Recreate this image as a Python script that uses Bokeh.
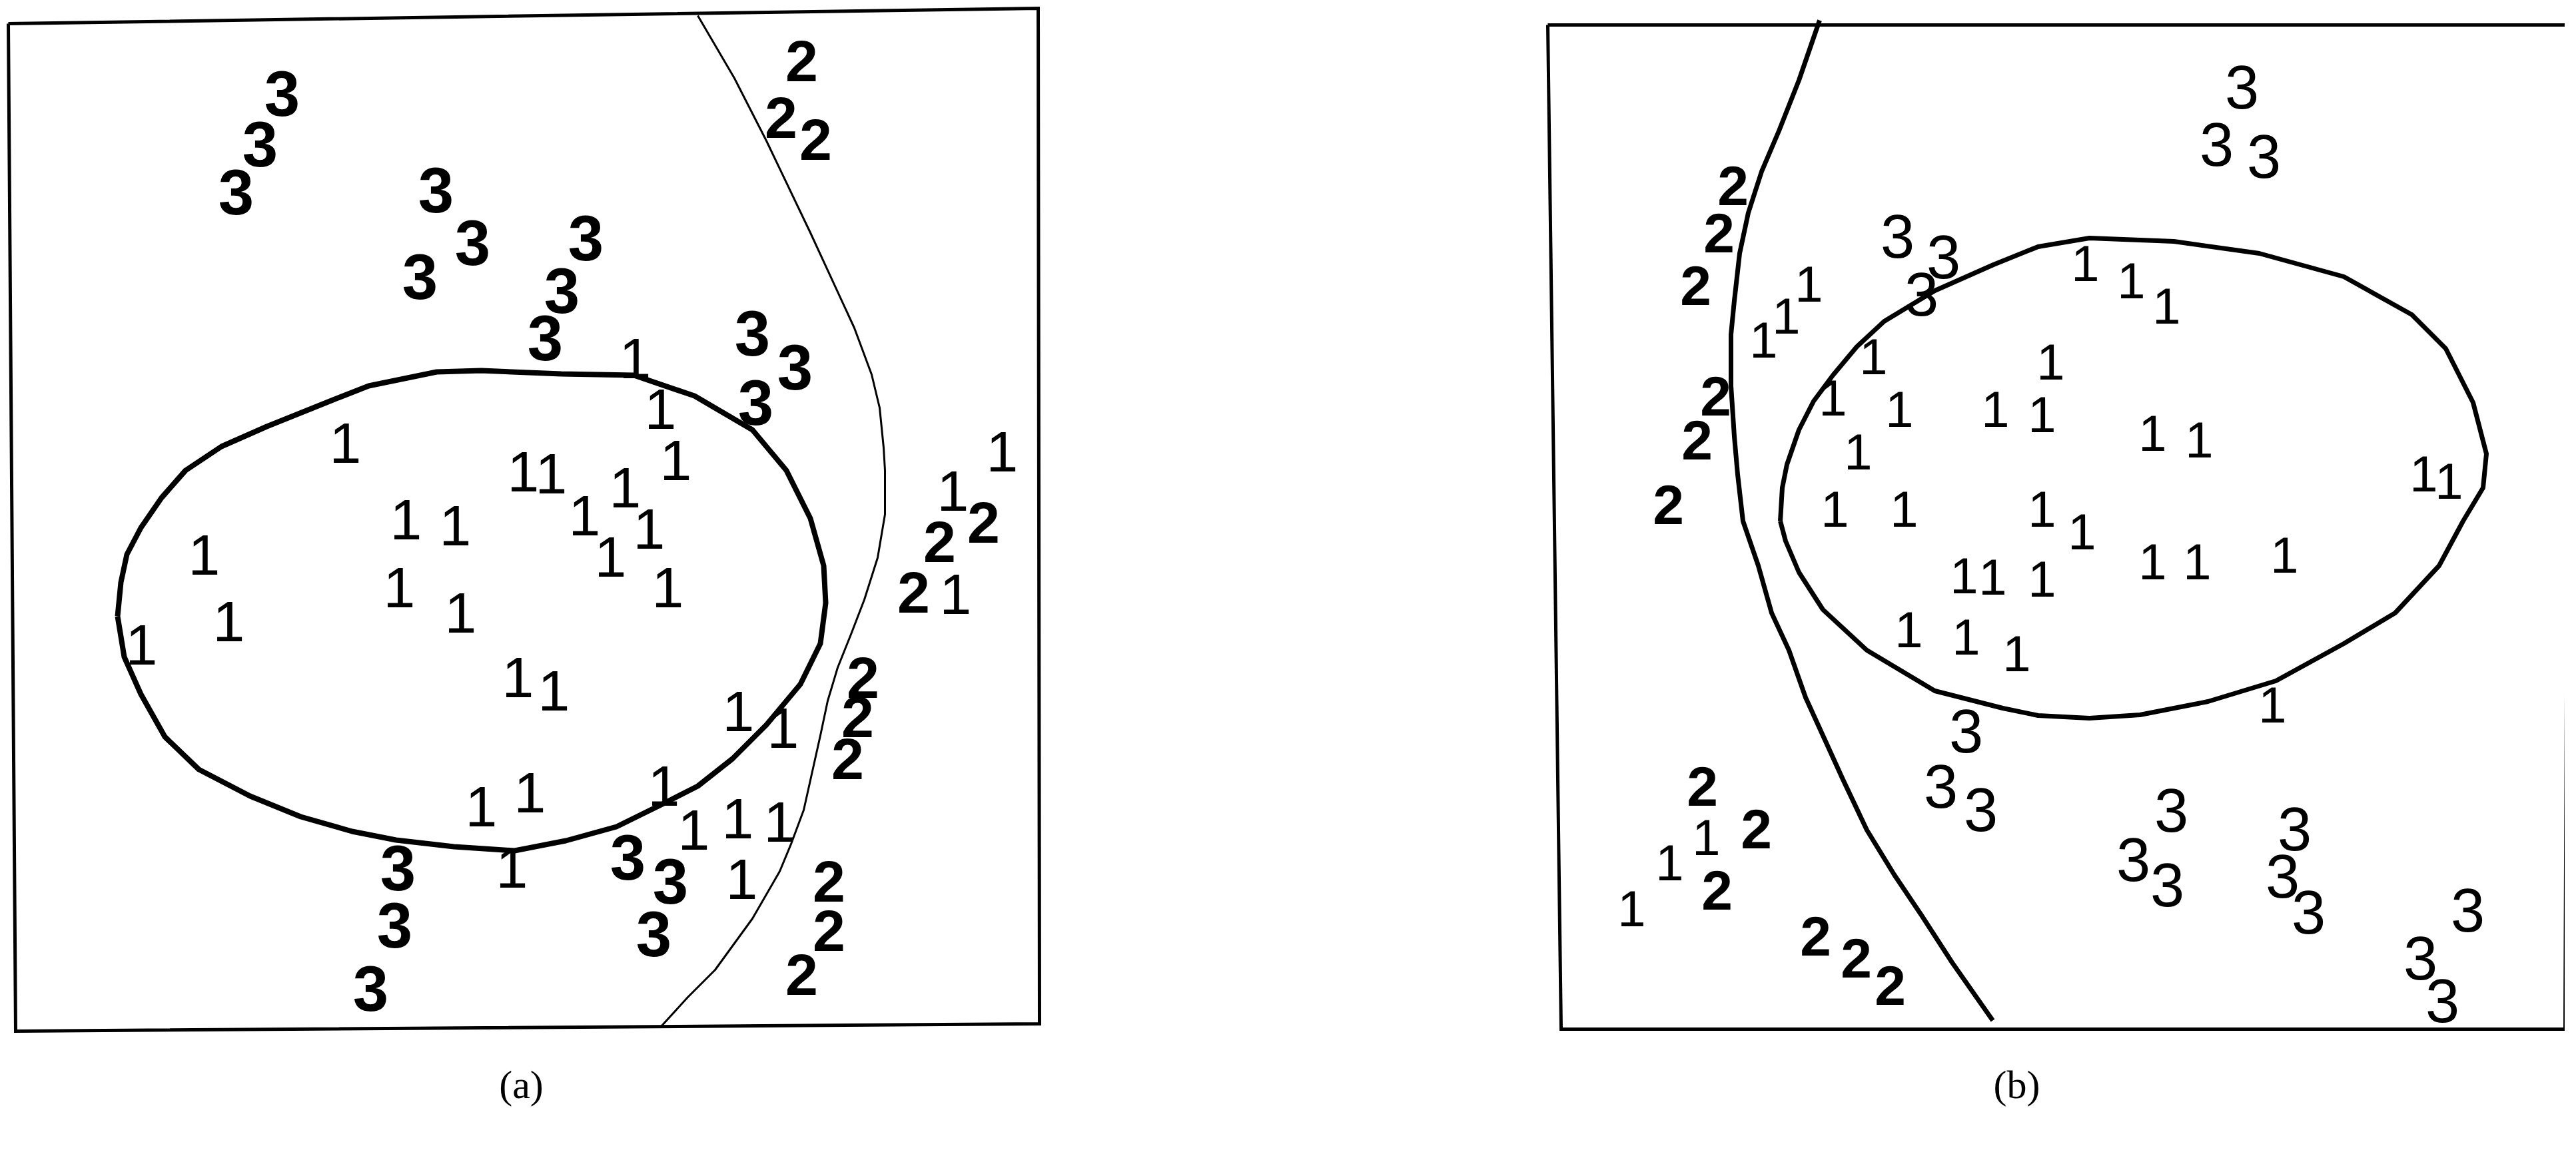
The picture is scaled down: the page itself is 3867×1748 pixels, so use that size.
from bokeh.plotting import figure
from bokeh.models import Range1d
from bokeh.embed import file_html
from bokeh.resources import INLINE
from bokeh.core.properties import value

# ---------------- data (picture coordinates, y grows downward) ----------------
# Panel (a) frame corners
A_FRAME_X = [20, 1566, 1568, 31, 20]
A_FRAME_Y = [43, 20, 1545, 1556, 43]
# Panel (b) frame corners
B_FRAME_X = [2331, 3864, 3858, 2351, 2331]
B_FRAME_Y = [45, 45, 1553, 1553, 45]

# Panel (a) closed boundary (thick)
A_OVAL_X = [184, 189, 198, 219, 250, 286, 340, 408, 510, 561, 663, 730, 850, 959, 1050,
            1137, 1188, 1224, 1244, 1247, 1239, 1209, 1158, 1107, 1055, 1004, 933, 857,
            780, 689, 602, 536, 459, 383, 306, 255, 219, 194, 184]
A_OVAL_Y = [933, 882, 840, 800, 755, 714, 678, 648, 607, 587, 566, 564, 569, 571, 602,
            653, 714, 786, 857, 913, 974, 1035, 1096, 1147, 1188, 1214, 1249, 1270,
            1285, 1279, 1269, 1256, 1234, 1203, 1163, 1114, 1050, 994, 933]
# Panel (a) open boundary (thin)
A_CURVE_X = [1055, 1110, 1158, 1224, 1290, 1316, 1328, 1334, 1336, 1336, 1325, 1305, 1285,
             1265, 1250, 1239, 1214, 1195, 1178, 1137, 1081, 1040, 999]
A_CURVE_Y = [31, 125, 219, 357, 500, 570, 620, 680, 714, 780, 845, 908, 960,
             1010, 1060, 1112, 1224, 1275, 1316, 1387, 1464, 1505, 1550]

# Panel (b) closed boundary
B_OVAL_X = [2680, 2683, 2690, 2708, 2730, 2759, 2795, 2836, 2912, 3000, 3067, 3144, 3271,
            3399, 3526, 3628, 3679, 3720, 3740, 3735, 3705, 3669, 3603, 3526, 3424, 3322,
            3220, 3144, 3067, 3014, 2912, 2810, 2744, 2708, 2688, 2680]
B_OVAL_Y = [790, 740, 705, 653, 610, 571, 528, 490, 444, 405, 378, 365, 370,
            388, 423, 480, 531, 612, 689, 740, 790, 857, 928, 974, 1030, 1061,
            1081, 1086, 1082, 1071, 1045, 984, 923, 867, 820, 790]
# Panel (b) open boundary
B_CURVE_X = [2739, 2708, 2678, 2652, 2632, 2619, 2611, 2606, 2606, 2611, 2616, 2624, 2647,
             2667, 2693, 2718, 2744, 2774, 2810, 2851, 2892, 2938, 2999]
B_CURVE_Y = [38, 128, 204, 265, 327, 388, 459, 510, 587, 663, 720, 790, 857,
             928, 984, 1055, 1112, 1178, 1254, 1321, 1382, 1453, 1540]

# Panel (a) samples
A_ONES_X = [526, 793, 835, 617, 691, 961, 999, 1022, 946, 885, 982, 924, 1010, 785, 839,
            314, 351, 220, 607, 699, 730, 803, 776, 1004, 1116, 1183, 1049, 1115, 1178,
            1121, 1442, 1438, 1512]
A_ONES_Y = [673, 716, 719, 788, 797, 546, 622, 699, 740, 782, 802, 844, 890, 1025, 1045,
            841, 941, 976, 890, 928, 1219, 1198, 1311, 1188, 1076, 1101, 1254, 1237, 1242,
            1328, 900, 745, 686]
A_TWOS_X = [1211, 1180, 1232, 1484, 1418, 1379, 1303, 1295, 1280, 1252, 1252, 1211]
A_TWOS_Y = [99, 184, 217, 792, 821, 897, 1025, 1084, 1147, 1331, 1405, 1471]
A_THREES_X = [431, 398, 362, 662, 717, 638, 887, 851, 826, 1137, 1201, 1142,
              605, 600, 564, 950, 1014, 989]
A_THREES_Y = [148, 224, 296, 293, 372, 423, 365, 444, 515, 508, 559, 612,
              1311, 1397, 1492, 1295, 1331, 1410]

# Panel (b) samples
B_ONES_X = [2723, 2689, 2655, 2820, 2759, 2859, 3003, 3073, 3086, 2797, 2762, 2866, 3073,
            3138, 3207, 3260, 3239, 3309, 3646, 3684, 3133, 3239, 3306, 3437, 3419,
            2956, 2999, 3073, 2873, 2959, 3035, 2569, 2514, 2457]
B_ONES_Y = [434, 482, 518, 543, 605, 622, 622, 630, 551, 686, 772, 772, 772,
            403, 429, 467, 658, 668, 719, 730, 806, 851, 851, 841, 1066,
            872, 874, 877, 953, 964, 989, 1265, 1303, 1372]
B_TWOS_X = [2609, 2588, 2553, 2583, 2555, 2512, 2563, 2644, 2585, 2733, 2794, 2845]
B_TWOS_Y = [286, 357, 436, 602, 668, 765, 1188, 1252, 1344, 1413, 1446, 1487]
B_THREES_X = [2856, 2925, 2892, 3373, 3335, 3406, 2959, 2921, 2981, 3267, 3210, 3261,
              3452, 3434, 3473, 3712, 3641, 3674]
B_THREES_Y = [362, 393, 449, 138, 224, 242, 1105, 1188, 1223, 1224, 1298, 1336,
              1252, 1323, 1377, 1374, 1446, 1510]

CAPTIONS = ["(a)", "(b)"]
CAPTION_X = [790, 3035]
CAPTION_Y = [1636, 1636]

# ---------------- figure ----------------
W, H = 3850, 1731
p = figure(width=W, height=H, x_range=Range1d(8, 8 + W), y_range=Range1d(8 + H, 8),
           x_axis_type=None, y_axis_type=None, output_backend="svg",
           toolbar_location=None, min_border=0)
p.grid.visible = False
p.outline_line_color = None
p.background_fill_color = "white"
p.border_fill_color = "white"

for fx, fy in ((A_FRAME_X, A_FRAME_Y), (B_FRAME_X, B_FRAME_Y)):
    p.line(fx, fy, line_color="black", line_width=5, line_join="miter")

p.line(A_OVAL_X, A_OVAL_Y, line_color="black", line_width=8, line_join="round")
p.line(A_CURVE_X, A_CURVE_Y, line_color="black", line_width=3, line_join="round")
p.line(B_OVAL_X, B_OVAL_Y, line_color="black", line_width=7, line_join="round")
p.line(B_CURVE_X, B_CURVE_Y, line_color="black", line_width=7, line_join="round")

font = value("Liberation Sans")

def digits(xs, ys, label, size, style):
    p.text(x=xs, y=ys, text=[label] * len(xs), text_font=font,
           text_font_size=value(size), text_font_style=style,
           text_align="center", text_baseline="middle", text_color="black")

digits(A_ONES_X, A_ONES_Y, "1", "86px", "normal")
digits(A_TWOS_X, A_TWOS_Y, "2", "88px", "bold")
digits(A_THREES_X, A_THREES_Y, "3", "96px", "bold")
digits(B_ONES_X, B_ONES_Y, "1", "76px", "normal")
digits(B_TWOS_X, B_TWOS_Y, "2", "84px", "bold")
digits(B_THREES_X, B_THREES_Y, "3", "92px", "normal")

p.text(x=CAPTION_X, y=CAPTION_Y, text=CAPTIONS, text_font=value("Liberation Serif"),
       text_font_size=value("60px"), text_align="center", text_baseline="middle",
       text_color="black")

open("out.html", "w").write(file_html(p, INLINE))
